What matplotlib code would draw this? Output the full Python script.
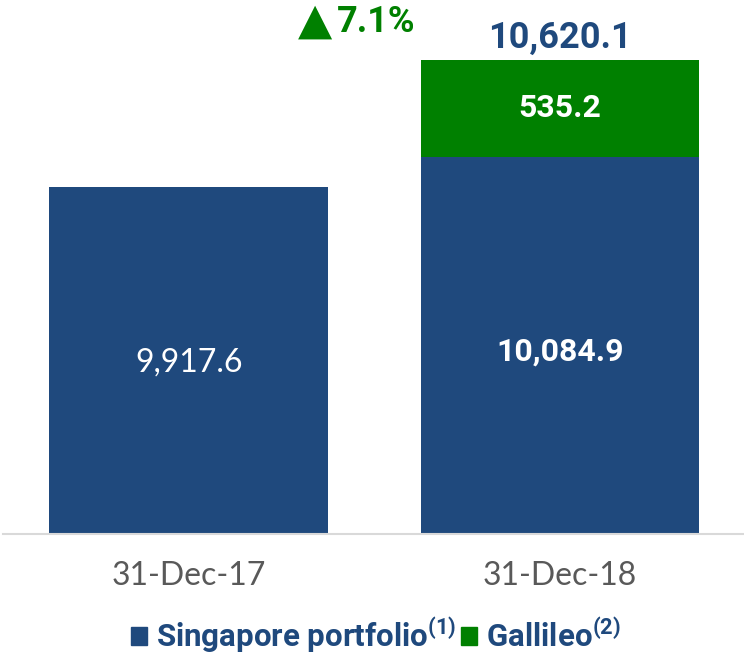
import matplotlib
matplotlib.use("Agg")
import matplotlib.pyplot as plt
from matplotlib.patches import Patch
import numpy as np

# data
dates = ["31-Dec-17", "31-Dec-18"]
singapore = [9917.6, 10084.9]
gallileo = [0.0, 535.2]

blue = "#1F497D"
green = "#008000"
grey = "#595959"

bold_fam = ["Roboto", "DejaVu Sans"]
light_fam = ["Lato", "DejaVu Sans"]

plt.rcParams["mathtext.fontset"] = "custom"
plt.rcParams["mathtext.bf"] = "Roboto:bold"
plt.rcParams["mathtext.rm"] = "Roboto:bold"

fig = plt.figure(figsize=(7.44, 6.55), dpi=100)
ax = fig.add_axes([3 / 744, 121.5 / 655, 741 / 744, 533.5 / 655])

x = np.arange(len(dates))
totals = np.array(singapore) + np.array(gallileo)
ymin = 8000

ax.bar(x, singapore, width=0.75, color=blue)
ax.bar(x[1:], gallileo[1:], width=0.75, color=green, bottom=singapore[1:])

ax.set_ylim(ymin, ymin + 533.5 / 0.1807)
ax.set_xlim(-0.5, 1.495)

# labels inside bars
ax.text(x[0], (ymin + singapore[0]) / 2 - 10, f"{singapore[0]:,.1f}",
        ha="center", va="center", color="white", fontsize=23,
        family=light_fam)
ax.text(x[1], (ymin + singapore[1]) / 2 - 38, f"{singapore[1]:,.1f}",
        ha="center", va="center", color="white", fontsize=23,
        family=bold_fam, fontweight="bold")
ax.text(x[1], singapore[1] + gallileo[1] / 2, f"{gallileo[1]:,.1f}",
        ha="center", va="center", color="white", fontsize=23,
        family=bold_fam, fontweight="bold")

# total on top
ax.annotate(f"{totals[1]:,.1f}", (x[1], totals[1]), xytext=(0, 3),
            textcoords="offset points", ha="center", va="bottom",
            color=blue, fontsize=26, family=bold_fam, fontweight="bold",
            annotation_clip=False)

# growth
growth = (totals[1] / totals[0] - 1) * 100
ax.text(0.505, 10830, f"{growth:.1f}%", ha="center", va="center",
        color=green, fontsize=26, family=bold_fam, fontweight="bold",
        clip_on=False)
ax.text(0.34, 10768, "\u25B2", ha="center", va="baseline",
        color=green, fontsize=32, family="DejaVu Sans", clip_on=False)

ax.set_xticks(x)
ax.set_xticklabels(dates, fontsize=23, color=grey, family=light_fam)
ax.tick_params(axis="x", length=0, pad=20)
ax.set_yticks([])
for s in ["top", "left", "right"]:
    ax.spines[s].set_visible(False)
ax.spines["bottom"].set_color("#D9D9D9")
ax.spines["bottom"].set_linewidth(1.5)

handles = [Patch(color=blue), Patch(color=green)]
labels = ["Singapore portfolio$^{\\mathbf{(1)}}$", "Gallileo$^{\\mathbf{(2)}}$"]
leg = fig.legend(handles, labels, loc="center", bbox_to_anchor=(376 / 744, 1 - 635 / 655),
                 ncol=2, frameon=False, handlelength=0.5, handleheight=0.5,
                 handletextpad=0.3, columnspacing=0.15, borderpad=0,
                 prop={"family": bold_fam, "weight": "bold", "size": 22.5})
for t in leg.get_texts():
    t.set_color(blue)

fig.savefig("out.png", dpi=100)
